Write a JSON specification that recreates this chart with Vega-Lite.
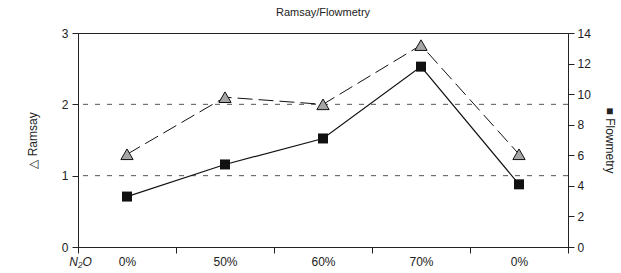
{
  "$schema": "https://vega.github.io/schema/vega-lite/v6.json",
  "width": 490,
  "height": 214,
  "autosize": {"type": "none"},
  "padding": {"left": 78, "top": 33, "right": 53, "bottom": 26},
  "title": {"text": "Ramsay/Flowmetry", "fontSize": 11, "fontWeight": "normal", "font": "Liberation Sans", "color": "#222", "offset": 9},
  "config": {
    "view": {"stroke": "#222", "strokeWidth": 1},
    "font": "Liberation Sans",
    "axis": {"labelFont": "Liberation Sans", "labelFontSize": 12, "labelColor": "#222", "domainColor": "#222", "tickColor": "#222", "titleFont": "Liberation Sans", "titleFontWeight": "normal", "titleFontSize": 11, "titleColor": "#222", "grid": false, "labelOverlap": false, "labelFlush": false}
  },
  "data": {"values": [
    {"step": 1, "n2o": "0%", "ramsay": 1.3, "flow": 3.3},
    {"step": 2, "n2o": "50%", "ramsay": 2.1, "flow": 5.4},
    {"step": 3, "n2o": "60%", "ramsay": 2.0, "flow": 7.1},
    {"step": 4, "n2o": "70%", "ramsay": 2.83, "flow": 11.8},
    {"step": 5, "n2o": "0%", "ramsay": 1.3, "flow": 4.1}
  ]},
  "encoding": {
    "x": {"field": "step", "type": "ordinal", "bandPosition": 0.5,
      "scale": {"type": "band", "paddingInner": 0, "paddingOuter": 0},
      "axis": {"labelAngle": 0, "tickBand": "extent", "tickSize": 6, "labelPadding": 3,
        "labelExpr": "['','0%','50%','60%','70%','0%'][datum.value]",
        "title": "N₂O", "titleFontStyle": "italic", "titleX": 2, "titleY": 18, "titleAlign": "center", "titleBaseline": "alphabetic", "titleFontSize": 12}}
  },
  "layer": [
    {
      "layer": [
        {
          "data": {"values": [{"level": 1}, {"level": 2}]},
          "mark": {"type": "rule", "strokeDash": [5, 7], "color": "#555", "strokeWidth": 1},
          "encoding": {"x": null, "y": {"field": "level", "type": "quantitative", "scale": {"domain": [0, 3]}}}
        },
        {
          "mark": {"type": "line", "color": "#111", "strokeWidth": 1, "strokeDash": [15, 6]},
          "encoding": {"y": {"field": "ramsay", "type": "quantitative", "scale": {"domain": [0, 3]},
            "axis": {"orient": "left", "values": [0, 1, 2, 3], "format": "d", "tickSize": 6, "labelPadding": 4, "title": "△ Ramsay", "titlePadding": 22, "titleFontSize": 12}}}
        },
        {
          "mark": {"type": "point", "shape": "triangle-up", "filled": true, "fill": "#a6a6a6", "stroke": "#111", "strokeWidth": 1, "size": 150, "opacity": 1},
          "encoding": {"y": {"field": "ramsay", "type": "quantitative"}}
        }
      ]
    },
    {
      "encoding": {"y": {"field": "flow", "type": "quantitative", "scale": {"domain": [0, 14]},
        "axis": {"orient": "right", "values": [0, 2, 4, 6, 8, 10, 12, 14], "tickCount": 8, "format": "d", "tickSize": 6, "labelPadding": 3, "title": "■ Flowmetry", "titleAngle": 90, "titlePadding": 12, "titleFontSize": 12}}},
      "layer": [
        {
          "mark": {"type": "line", "color": "#111", "strokeWidth": 1.2}
        },
        {
          "mark": {"type": "square", "color": "#111", "size": 100, "opacity": 1}
        }
      ]
    }
  ],
  "resolve": {"scale": {"y": "independent"}}
}
